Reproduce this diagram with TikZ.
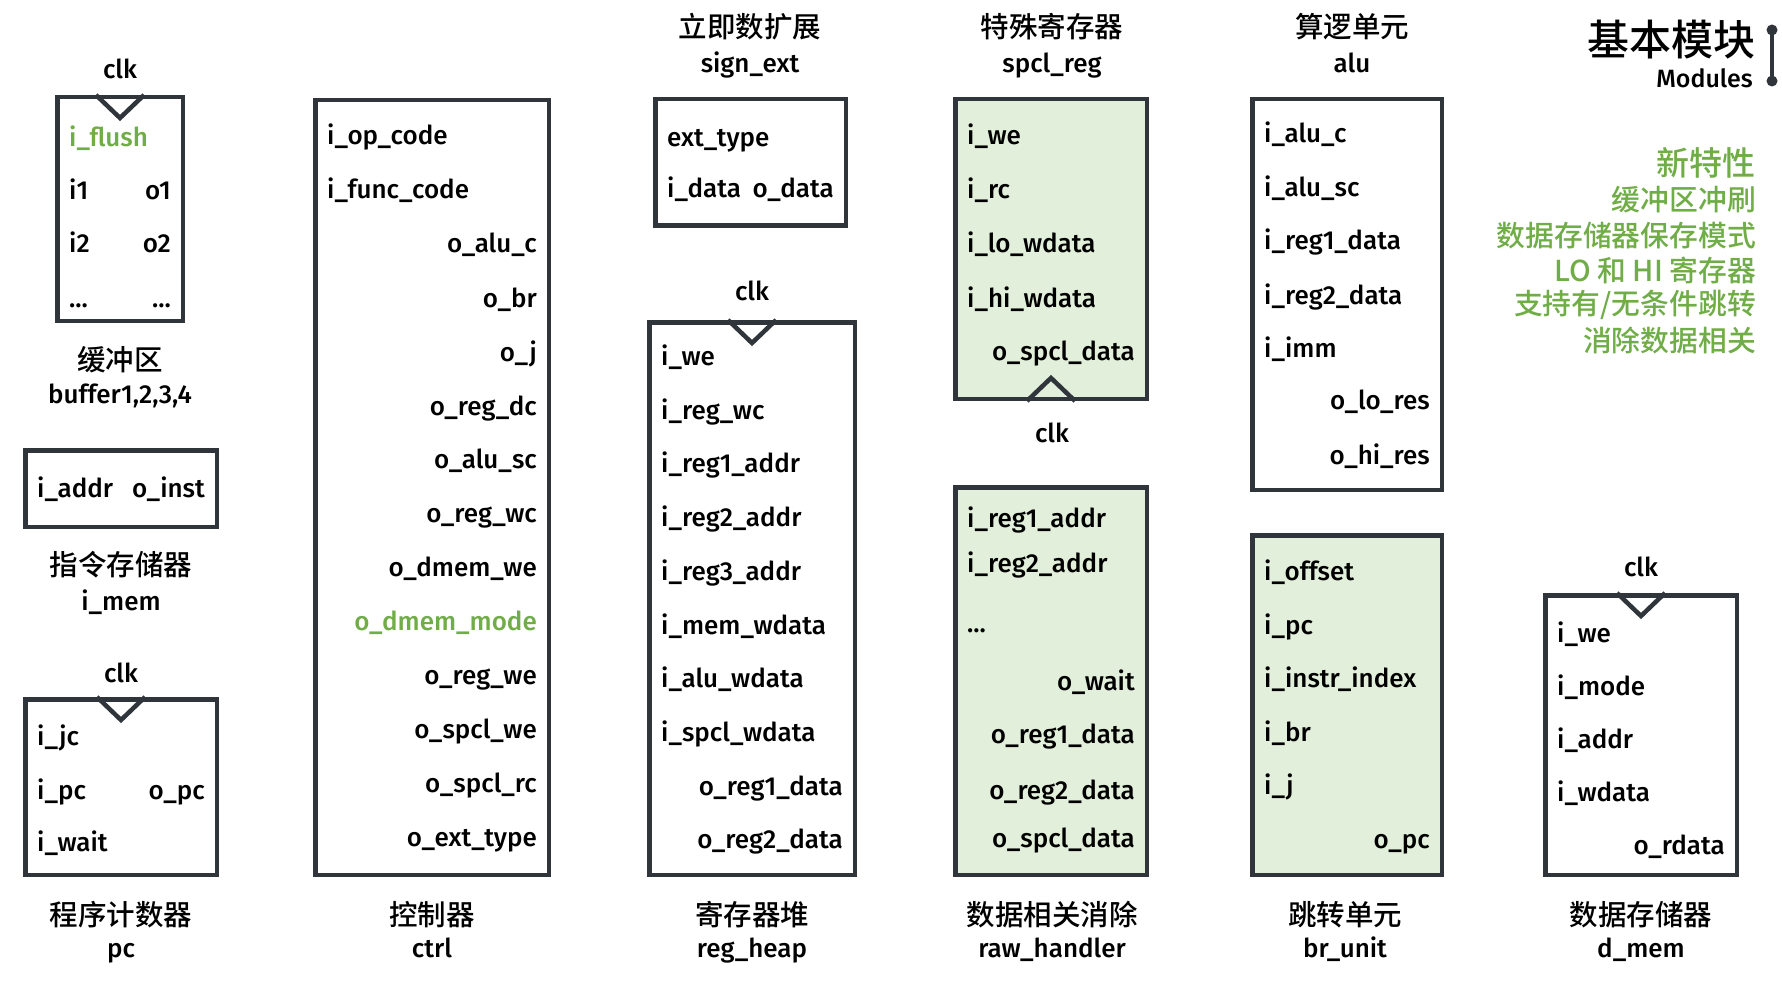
\documentclass[tikz,border=0pt]{standalone}
\usepackage{fontspec}
\setmainfont{Fira Sans}[UprightFont={* Medium}]
\newfontfamily\cjk{Noto Sans CJK SC}[UprightFont={* Medium}]
\usepackage{xcolor}
\definecolor{boxline}{HTML}{2F353B}
\definecolor{newgreen}{HTML}{70AD47}
\definecolor{newfill}{HTML}{E2EFDA}

\tikzset{
  modbox/.style={draw=boxline, line width=4.5pt, rectangle, inner sep=0pt},
  newbox/.style={modbox, fill=newfill},
  pin/.style={anchor=base west, inner sep=0pt, font=\fontsize{26}{28}\selectfont},
  pinr/.style={pin, anchor=base east},
  clkmark/.style={draw=boxline, line width=4.5pt},
  clklabel/.style={anchor=base, inner sep=0pt, font=\fontsize{26}{28}\selectfont},
  cnname/.style={inner sep=0pt, font=\cjk\fontsize{28.5}{30}\selectfont},
  enname/.style={anchor=base, inner sep=0pt, font=\fontsize{26}{28}\selectfont},
  newitem/.style={anchor=east, inner sep=0pt, text=newgreen, font=\cjk\fontsize{28.8}{30}\selectfont},
  dot/.style={circle, fill=boxline, inner sep=0pt, minimum size=11pt},
}

\begin{document}
\begin{tikzpicture}[x=1pt, y=-1pt]
\useasboundingbox[fill=white] (0,0) rectangle (1782,984);

% buffer
\node [modbox, minimum width=125.5pt, minimum height=223.5pt] (buf) at (120,209) {};
\draw [clkmark] ([xshift=-24pt]buf.north) -- ([yshift=-23pt]buf.north) -- ([xshift=24pt]buf.north);
\node [clklabel] (buf-clk) at (120,79) {clk};
\node [pin, text=newgreen] (buf-fl) at (69,147) {i\_flush};
\node [pin] (buf-i1) at (69,200) {i1};
\node [pinr] (buf-o1) at (171,200) {o1};
\node [pin] (buf-i2) at (69,253) {i2};
\node [pinr] (buf-o2) at (171,253) {o2};
\node [pin] (buf-in) at (69,307) {...};
\node [pinr] (buf-on) at (171,307) {...};
\node [cnname] (buf-cn) at (120,360) {缓冲区};
\node [enname] (buf-en) at (120,403) {buffer1,2,3,4};

% instruction memory
\node [modbox, minimum width=191.5pt, minimum height=76.5pt] (imem) at (121,488.5) {};
\node [pin] (imem-a) at (37,497) {i\_addr};
\node [pinr] (imem-o) at (205,497) {o\_inst};
\node [cnname] (imem-cn) at (121,565) {指令存储器};
\node [enname] (imem-en) at (121,610) {i\_mem};

% pc
\node [modbox, minimum width=191.5pt, minimum height=175.5pt] (pc) at (121,787) {};
\draw [clkmark] ([xshift=-24pt]pc.north) -- ([yshift=-23pt]pc.north) -- ([xshift=24pt]pc.north);
\node [clklabel] (pc-clk) at (121,682) {clk};
\node [pin] (pc-jc) at (37,745) {i\_jc};
\node [pin] (pc-ipc) at (37,799) {i\_pc};
\node [pinr] (pc-opc) at (205,799) {o\_pc};
\node [pin] (pc-w) at (37,851) {i\_wait};
\node [cnname] (pc-cn) at (121,915) {程序计数器};
\node [enname] (pc-en) at (121,957) {pc};

% controller
\node [modbox, minimum width=233.5pt, minimum height=774.5pt] (ctrl) at (432,487.5) {};
\node [pin] (ctrl-1) at (327,145) {i\_op\_code};
\node [pin] (ctrl-2) at (327,199) {i\_func\_code};
\node [pinr] (ctrl-3) at (537,253) {o\_alu\_c};
\node [pinr] (ctrl-4) at (537,307) {o\_br};
\node [pinr] (ctrl-5) at (537,361) {o\_j};
\node [pinr] (ctrl-6) at (537,415) {o\_reg\_dc};
\node [pinr] (ctrl-7) at (537,468) {o\_alu\_sc};
\node [pinr] (ctrl-8) at (537,522) {o\_reg\_wc};
\node [pinr] (ctrl-9) at (537,576) {o\_dmem\_we};
\node [pinr, text=newgreen] (ctrl-10) at (537,630) {o\_dmem\_mode};
\node [pinr] (ctrl-11) at (537,684) {o\_reg\_we};
\node [pinr] (ctrl-12) at (537,738) {o\_spcl\_we};
\node [pinr] (ctrl-13) at (537,792) {o\_spcl\_rc};
\node [pinr] (ctrl-14) at (537,846) {o\_ext\_type};
\node [cnname] (ctrl-cn) at (432,915) {控制器};
\node [enname] (ctrl-en) at (432,957) {ctrl};

% sign extension
\node [cnname] (sign-cn) at (750,27) {立即数扩展};
\node [enname] (sign-en) at (750,73) {sign\_ext};
\node [modbox, minimum width=190.5pt, minimum height=126.5pt] (sign) at (750.5,162.5) {};
\node [pin] (sign-t) at (667,147) {ext\_type};
\node [pin] (sign-i) at (667,198) {i\_data};
\node [pinr] (sign-o) at (834,198) {o\_data};

% register heap
\node [modbox, minimum width=205.5pt, minimum height=552.5pt] (reg) at (752,598.5) {};
\draw [clkmark] ([xshift=-24pt]reg.north) -- ([yshift=-23pt]reg.north) -- ([xshift=24pt]reg.north);
\node [clklabel] (reg-clk) at (752,300) {clk};
\node [pin] (reg-1) at (661,365) {i\_we};
\node [pin] (reg-2) at (661,419) {i\_reg\_wc};
\node [pin] (reg-3) at (661,472) {i\_reg1\_addr};
\node [pin] (reg-4) at (661,526) {i\_reg2\_addr};
\node [pin] (reg-5) at (661,580) {i\_reg3\_addr};
\node [pin] (reg-6) at (661,634) {i\_mem\_wdata};
\node [pin] (reg-7) at (661,687) {i\_alu\_wdata};
\node [pin] (reg-8) at (661,741) {i\_spcl\_wdata};
\node [pinr] (reg-9) at (843,795) {o\_reg1\_data};
\node [pinr] (reg-10) at (843,848) {o\_reg2\_data};
\node [cnname] (reg-cn) at (752,915) {寄存器堆};
\node [enname] (reg-en) at (752,957) {reg\_heap};

% special registers
\node [cnname] (spcl-cn) at (1052,27) {特殊寄存器};
\node [enname] (spcl-en) at (1052,73) {spcl\_reg};
\node [newbox, minimum width=191.5pt, minimum height=299.5pt] (spcl) at (1051,249) {};
\draw [clkmark] ([xshift=-24pt]spcl.south) -- ([yshift=23pt]spcl.south) -- ([xshift=24pt]spcl.south);
\node [clklabel] (spcl-clk) at (1052,442) {clk};
\node [pin] (spcl-1) at (967,145) {i\_we};
\node [pin] (spcl-2) at (967,199) {i\_rc};
\node [pin] (spcl-3) at (967,253) {i\_lo\_wdata};
\node [pin] (spcl-4) at (967,307) {i\_hi\_wdata};
\node [pinr] (spcl-5) at (1135,360) {o\_spcl\_data};

% raw handler
\node [newbox, minimum width=191.5pt, minimum height=387.5pt] (raw) at (1051,681) {};
\node [pin] (raw-1) at (967,527) {i\_reg1\_addr};
\node [pin] (raw-2) at (967,572) {i\_reg2\_addr};
\node [pin] (raw-3) at (967,632) {...};
\node [pinr] (raw-4) at (1135,690) {o\_wait};
\node [pinr] (raw-5) at (1135,743) {o\_reg1\_data};
\node [pinr] (raw-6) at (1135,799) {o\_reg2\_data};
\node [pinr] (raw-7) at (1135,847) {o\_spcl\_data};
\node [cnname] (raw-cn) at (1052,915) {数据相关消除};
\node [enname] (raw-en) at (1052,957) {raw\_handler};

% alu
\node [cnname] (alu-cn) at (1352,27) {算逻单元};
\node [enname] (alu-en) at (1352,73) {alu};
\node [modbox, minimum width=189.5pt, minimum height=390.5pt] (alu) at (1347,294.5) {};
\node [pin] (alu-1) at (1264,143) {i\_alu\_c};
\node [pin] (alu-2) at (1264,197) {i\_alu\_sc};
\node [pin] (alu-3) at (1264,250) {i\_reg1\_data};
\node [pin] (alu-4) at (1264,304) {i\_reg2\_data};
\node [pin] (alu-5) at (1264,357) {i\_imm};
\node [pinr] (alu-6) at (1430,409) {o\_lo\_res};
\node [pinr] (alu-7) at (1430,464) {o\_hi\_res};

% branch unit
\node [newbox, minimum width=189.5pt, minimum height=339.5pt] (br) at (1347,705) {};
\node [pin] (br-1) at (1264,580) {i\_offset};
\node [pin] (br-2) at (1264,634) {i\_pc};
\node [pin] (br-3) at (1264,687) {i\_instr\_index};
\node [pin] (br-4) at (1264,741) {i\_br};
\node [pin] (br-5) at (1264,794) {i\_j};
\node [pinr] (br-6) at (1430,848) {o\_pc};
\node [cnname] (br-cn) at (1345,915) {跳转单元};
\node [enname] (br-en) at (1345,957) {br\_unit};

% data memory
\node [modbox, minimum width=191.5pt, minimum height=279.5pt] (dmem) at (1641,735) {};
\draw [clkmark] ([xshift=-24pt]dmem.north) -- ([yshift=-23pt]dmem.north) -- ([xshift=24pt]dmem.north);
\node [clklabel] (dmem-clk) at (1641,576) {clk};
\node [pin] (dmem-1) at (1557,642) {i\_we};
\node [pin] (dmem-2) at (1557,695) {i\_mode};
\node [pin] (dmem-3) at (1557,748) {i\_addr};
\node [pin] (dmem-4) at (1557,801) {i\_wdata};
\node [pinr] (dmem-5) at (1725,854) {o\_rdata};
\node [cnname] (dmem-cn) at (1641,915) {数据存储器};
\node [enname] (dmem-en) at (1641,957) {d\_mem};

% title and new features
\node [anchor=east, inner sep=0pt, font=\cjk\fontsize{42}{44}\selectfont] (title) at (1756,40) {基本模块};
\node [anchor=base east, inner sep=0pt, font=\fontsize{25}{28}\selectfont] (title-en) at (1753,88) {Modules};
\node [dot] (bar-t) at (1772,30) {};
\node [dot] (bar-b) at (1772,81) {};
\draw [boxline, line width=4.5pt] (bar-t.center) -- (bar-b.center);
\node [newitem, font=\cjk\fontsize{33}{35}\selectfont] (new-0) at (1756,163) {新特性};
\node [newitem] (new-1) at (1756,200) {缓冲区冲刷};
\node [newitem] (new-2) at (1756,236) {数据存储器保存模式};
\node [newitem] (new-3) at (1756,270) {LO 和 HI 寄存器};
\node [newitem] (new-4) at (1756,305) {支持有/无条件跳转};
\node [newitem] (new-5) at (1756,340) {消除数据相关};
\end{tikzpicture}
\end{document}
